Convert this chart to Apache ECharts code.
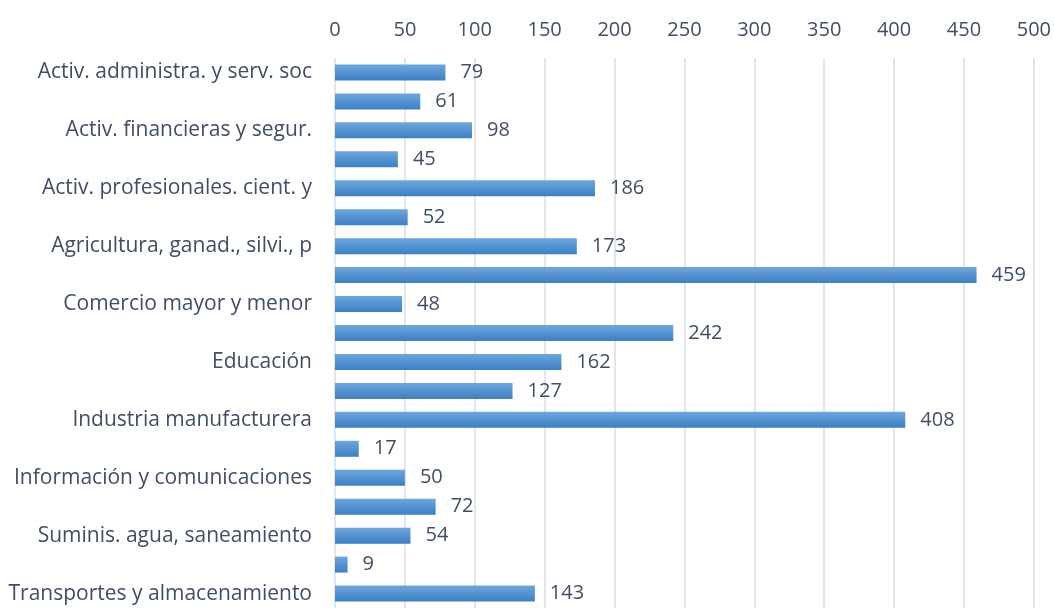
<!DOCTYPE html>
<html>
<head>
<meta charset="utf-8">
<script src="https://cdn.jsdelivr.net/npm/echarts@6/dist/echarts.min.js"></script>
<style>
  html, body { margin: 0; padding: 0; background: #fff; }
  #chart { width: 1054px; height: 608px; }
</style>
</head>
<body>
<div id="chart"></div>
<script>
// categorias (de arriba a abajo); las intermedias no muestran etiqueta
var categories = [
  'Activ. administra. y serv. soc',
  'Activ. artísticas y entreten.',
  'Activ. financieras y segur.',
  'Activ. inmobiliarias',
  'Activ. profesionales. cient. y',
  'Administración pública',
  'Agricultura, ganad., silvi., p',
  'Alojamiento y comida',
  'Comercio mayor y menor',
  'Construcción',
  'Educación',
  'Explotación minas',
  'Industria manufacturera',
  'Hogares',
  'Información y comunicaciones',
  'Otros servicios',
  'Suminis. agua, saneamiento',
  'Suminis. electricidad, gas',
  'Transportes y almacenamiento'
]
var values = [79, 61, 98, 45, 186, 52, 173, 459, 48, 242, 162, 127, 408, 17, 50, 72, 54, 9, 143]

var textColor = '#414e63'
var font = 'Open Sans'

var chart = echarts.init(document.getElementById('chart'))
chart.setOption({
  backgroundColor: '#fff',
  animation: false,
  grid: {
    left: 335,
    right: 19,
    top: 58,
    height: 554
  },
  xAxis: {
    type: 'value',
    position: 'top',
    min: 0,
    max: 500,
    interval: 50,
    axisLine: { show: false },
    axisTick: { show: false },
    axisLabel: { color: textColor, fontSize: 20, fontFamily: font, margin: 18 },
    splitLine: { lineStyle: { color: '#d9dde3', width: 1.5 } }
  },
  yAxis: {
    type: 'category',
    inverse: true,
    data: categories,
    axisLine: { show: false },
    axisTick: { show: false },
    axisLabel: { interval: 1, color: textColor, fontSize: 21, fontFamily: font, margin: 23 }
  },
  series: [{
    type: 'bar',
    data: values,
    barWidth: 16,
    itemStyle: {
      color: new echarts.graphic.LinearGradient(0, 0, 0, 1, [
        { offset: 0, color: '#6ea6dc' },
        { offset: 1, color: '#3b80c5' }
      ])
    },
    label: {
      show: true,
      position: 'right',
      distance: 15,
      color: textColor,
      fontSize: 20,
      fontFamily: font
    }
  }]
})
</script>
</body>
</html>
